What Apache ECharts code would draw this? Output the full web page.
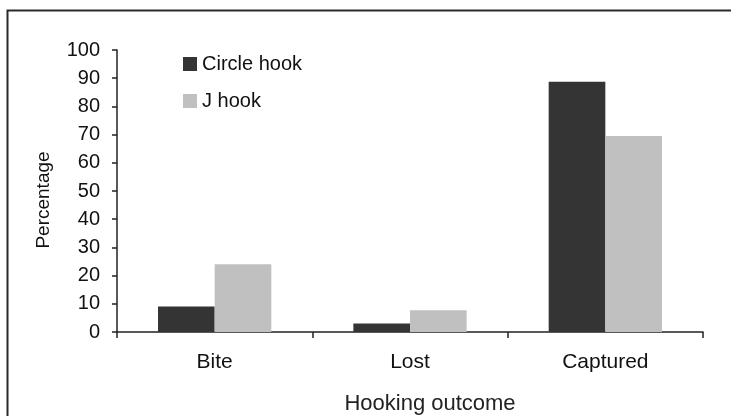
<!DOCTYPE html>
<html>
<head>
<meta charset="utf-8">
<script src="https://cdn.jsdelivr.net/npm/echarts@6/dist/echarts.min.js"></script>
<style>
  html, body { margin: 0; padding: 0; background: #fff; }
  #chart { width: 731px; height: 416px; }
</style>
</head>
<body>
<div id="chart"></div>
<script>
const categories = ['Bite', 'Lost', 'Captured'];
const circleHook = [9, 3, 88.7];
const jHook = [24, 7.7, 69.5];
const yTicks = { min: 0, max: 100, interval: 10 };

const font = 'Liberation Sans, Arial, sans-serif';
const chart = echarts.init(document.getElementById('chart'));

chart.setOption({
    backgroundColor: '#fff',
    animation: false,
    textStyle: { fontFamily: font, color: '#111' },
    grid: { left: 117, top: 50, right: 28, bottom: 84, outerBoundsMode: 'none', containLabel: false },
    graphic: [{
        type: 'rect',
        left: 5, top: 8,
        shape: { width: 900, height: 600 },
        style: { fill: 'none', stroke: '#2a2a2a', lineWidth: 2 },
        silent: true
    }],
    legend: {
        orient: 'vertical',
        left: 183, top: 54,
        padding: 0,
        itemWidth: 14, itemHeight: 14,
        itemGap: 17,
        icon: 'rect',
        textStyle: { fontSize: 20, color: '#111', fontFamily: font },
        data: ['Circle hook', 'J hook']
    },
    xAxis: {
        type: 'category',
        data: categories,
        name: 'Hooking outcome',
        nameLocation: 'middle',
        nameGap: 61,
        nameTextStyle: { fontSize: 22, color: '#222', padding: [0, 0, 0, 40] },
        axisLine: { lineStyle: { color: '#222', width: 1.5 } },
        axisTick: { show: true, length: 6, lineStyle: { color: '#222', width: 1.5 } },
        axisLabel: { fontSize: 21, color: '#111', margin: 20 }
    },
    yAxis: {
        type: 'value',
        min: yTicks.min, max: yTicks.max, interval: yTicks.interval,
        name: 'Percentage',
        nameLocation: 'middle',
        nameGap: 64,
        nameRotate: 90,
        nameTextStyle: { fontSize: 19, color: '#111', padding: [0, 18, 0, 0] },
        axisLine: { show: true, lineStyle: { color: '#222', width: 1.5 } },
        axisTick: { show: true, length: 5, lineStyle: { color: '#222', width: 1.5 } },
        axisLabel: { fontSize: 20, color: '#111', margin: 17 },
        splitLine: { show: false }
    },
    series: [
        {
            name: 'Circle hook',
            type: 'bar',
            data: circleHook,
            barGap: '0%',
            barCategoryGap: '42%',
            itemStyle: { color: '#343434' }
        },
        {
            name: 'J hook',
            type: 'bar',
            data: jHook,
            itemStyle: { color: '#c0c0c0' }
        }
    ]
});
</script>
</body>
</html>
